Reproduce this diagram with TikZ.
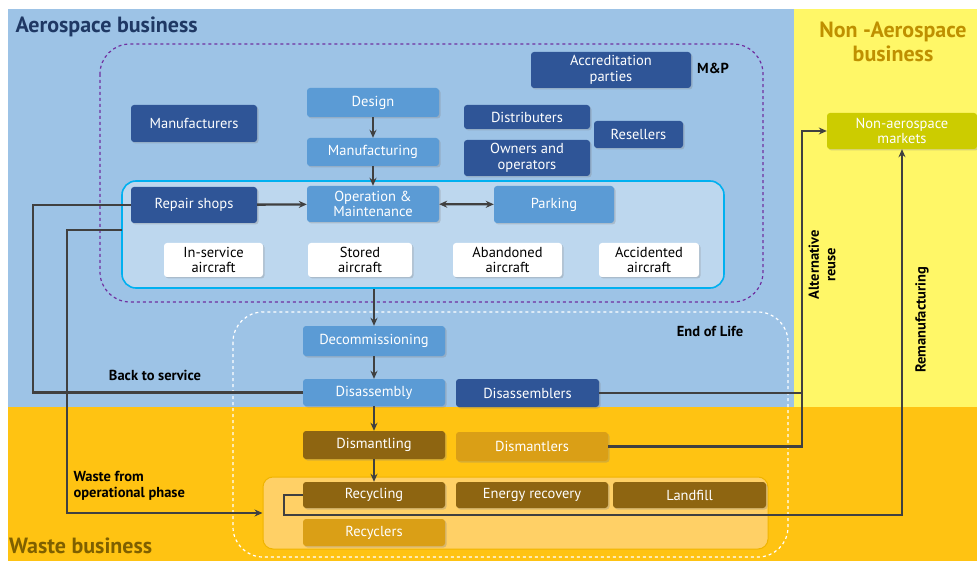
\documentclass[tikz,border=0pt]{standalone}
\usepackage{fontspec}
\setmainfont{PT Sans}
\usetikzlibrary{arrows.meta,shadows}
\definecolor{aeroblue}{HTML}{9DC3E6}
\definecolor{nonaeroyellow}{HTML}{FFF767}
\definecolor{wasteorange}{HTML}{FFC312}
\definecolor{navybox}{HTML}{2F5597}
\definecolor{midbox}{HTML}{5B9BD5}
\definecolor{opfill}{HTML}{BDD7EE}
\definecolor{opline}{HTML}{00B0F0}
\definecolor{brownbox}{HTML}{8E6511}
\definecolor{goldbox}{HTML}{DA9F16}
\definecolor{recfill}{HTML}{FFD066}
\definecolor{recline}{HTML}{F0B400}
\definecolor{olivebox}{HTML}{CCCC00}
\definecolor{mpline}{HTML}{7030A0}
\definecolor{titleblue}{HTML}{1F3864}
\definecolor{titlegold}{HTML}{BF9000}
\definecolor{titlebrown}{HTML}{7F6000}
\definecolor{flowgray}{HTML}{404040}
\begin{document}
\begin{tikzpicture}[x=1pt,y=-1pt,
  box/.style={rounded corners=3pt,text=white,align=center,inner sep=0pt,font=\fontsize{14.5}{15.5}\selectfont,drop shadow={shadow xshift=1.5pt,shadow yshift=-1.5pt,opacity=0.3}},
  navy/.style={box,fill=navybox},
  mid/.style={box,fill=midbox},
  plain/.style={box,fill=white,text=black},
  brown/.style={box,fill=brownbox},
  gold/.style={box,fill=goldbox},
  olive/.style={box,fill=olivebox},
  flow/.style={draw=flowgray,line width=2.3pt},
  tip/.style={-{Stealth[length=8pt,width=7pt]}},
  tag/.style={font=\bfseries\fontsize{14.5}{16.5}\selectfont,align=left}]
\useasboundingbox (0,0) rectangle (977,561);
\clip (0,0) rectangle (977,561);
\fill[aeroblue] (8,9) rectangle (794,407);
\fill[nonaeroyellow] (794,9) rectangle (977,407);
\fill[wasteorange] (8,407) rectangle (977,561);
\node (aerotitle) [anchor=west,text=titleblue,font=\bfseries\fontsize{22}{24}\selectfont] at (12,27) {Aerospace business};
\node (nonaerotitle) [text=titlegold,align=center,font=\bfseries\fontsize{22}{24}\selectfont] at (893,42) {Non -Aerospace\\business};
\node (wastetitle) [anchor=base west,inner sep=0pt,text=titlebrown,font=\bfseries\fontsize{22}{24}\selectfont] at (9,553) {Waste business};
\draw[mpline,dashed,line width=1.2pt,rounded corners=30pt] (100,44) rectangle (763,302);
\node (mp) [tag] at (713,68) {M\&P};
\node (opbox) [draw=opline,fill=opfill,line width=1.6pt,rounded corners=14pt,minimum width=602,minimum height=107] at (423,234.5) {};
\draw[white,dashed,line width=1.2pt,rounded corners=30pt] (233,312) rectangle (788,557);
\node (endlife) [tag] at (710,331) {End of Life};
\node (recbox) [draw=recline,fill=recfill,line width=1pt,rounded corners=10pt,minimum width=505,minimum height=72] at (515.5,513) {};
\node (manufacturers) [navy,minimum width=126,minimum height=37] at (194,123.5) {Manufacturers};
\node (design) [mid,minimum width=132,minimum height=29] at (373,102.5) {Design};
\node (manufacturing) [mid,minimum width=132,minimum height=28] at (373,152) {Manufacturing};
\node (accred) [navy,minimum width=160,minimum height=36] at (611,70) {Accreditation\\parties};
\node (distrib) [navy,minimum width=126,minimum height=24] at (527,117) {Distributers};
\node (resellers) [navy,minimum width=89,minimum height=27] at (638.5,134.5) {Resellers};
\node (owners) [navy,minimum width=126,minimum height=36] at (527,158) {Owners and\\operators};
\node (repair) [navy,minimum width=126,minimum height=36] at (194,205) {Repair shops};
\node (operation) [mid,minimum width=132,minimum height=36] at (373,204) {Operation \&\\Maintenance};
\node (parking) [mid,minimum width=120,minimum height=37] at (554,204.5) {Parking};
\node (inservice) [plain,minimum width=99,minimum height=34] at (213.5,260) {In-service\\aircraft};
\node (stored) [plain,minimum width=104,minimum height=34] at (360,260) {Stored\\aircraft};
\node (abandoned) [plain,minimum width=109,minimum height=34] at (507.5,260) {Abandoned\\aircraft};
\node (accidented) [plain,minimum width=100,minimum height=34] at (649,260) {Accidented\\aircraft};
\node (nonaero) [olive,minimum width=150,minimum height=36] at (902,131) {Non-aerospace\\markets};
\node (decomm) [mid,minimum width=142,minimum height=30] at (374,341) {Decommissioning};
\node (disassembly) [mid,minimum width=142,minimum height=27] at (374,392.5) {Disassembly};
\node (disassemblers) [navy,minimum width=143,minimum height=28] at (527.5,393) {Disassemblers};
\node (dismantling) [brown,minimum width=142,minimum height=28] at (374,445) {Dismantling};
\node (dismantlers) [gold,minimum width=152,minimum height=29] at (532,446.5) {Dismantlers};
\node (recycling) [brown,minimum width=142,minimum height=26] at (374,495) {Recycling};
\node (energy) [brown,minimum width=152,minimum height=26] at (532,495) {Energy recovery};
\node (landfill) [brown,minimum width=153,minimum height=26] at (689.5,495) {Landfill};
\node (recyclers) [gold,minimum width=142,minimum height=27] at (374,532.5) {Recyclers};
\draw[flow,tip] (design) -- (manufacturing);
\draw[flow,tip] (manufacturing) -- (operation);
\draw[flow,tip] (repair) -- (operation);
\draw[flow,{Stealth[length=8pt,width=7pt]}-{Stealth[length=8pt,width=7pt]}] (operation) -- (parking);
\draw[flow,tip] (decomm |- opbox.south) -- (decomm);
\draw[flow,tip] (decomm) -- (disassembly);
\draw[flow,tip] (disassembly) -- (dismantling);
\draw[flow,tip] (dismantling) -- (recycling);
\draw[flow] (disassembly.west) -- ++(-270,0) |- (repair.west);
\node (backservice) [tag] at (155,375) {Back to service};
\coordinate (wasteout) at (122,230);
\draw[flow,tip] (wasteout) -- ++(-55,0) |- (recbox.west);
\node (wastefrom) [tag,anchor=west] at (70,486) {Waste from\\operational phase};
\coordinate (reuse) at (802,131);
\draw[flow,tip] (dismantlers.east) -| (reuse) -- (nonaero.west);
\draw[flow] (disassemblers.east) -- (disassemblers.east -| reuse);
\node (altreuse) [tag,align=center,rotate=90] at (822,265) {Alternative\\reuse};
\coordinate (remanu) at (nonaero.south |- 0,515);
\draw[flow,tip] (recycling.west) -- ++(-19,0) |- (remanu) -- (nonaero.south);
\node (remanlabel) [tag,rotate=90] at (922,320) {Remanufacturing};
\end{tikzpicture}
\end{document}
